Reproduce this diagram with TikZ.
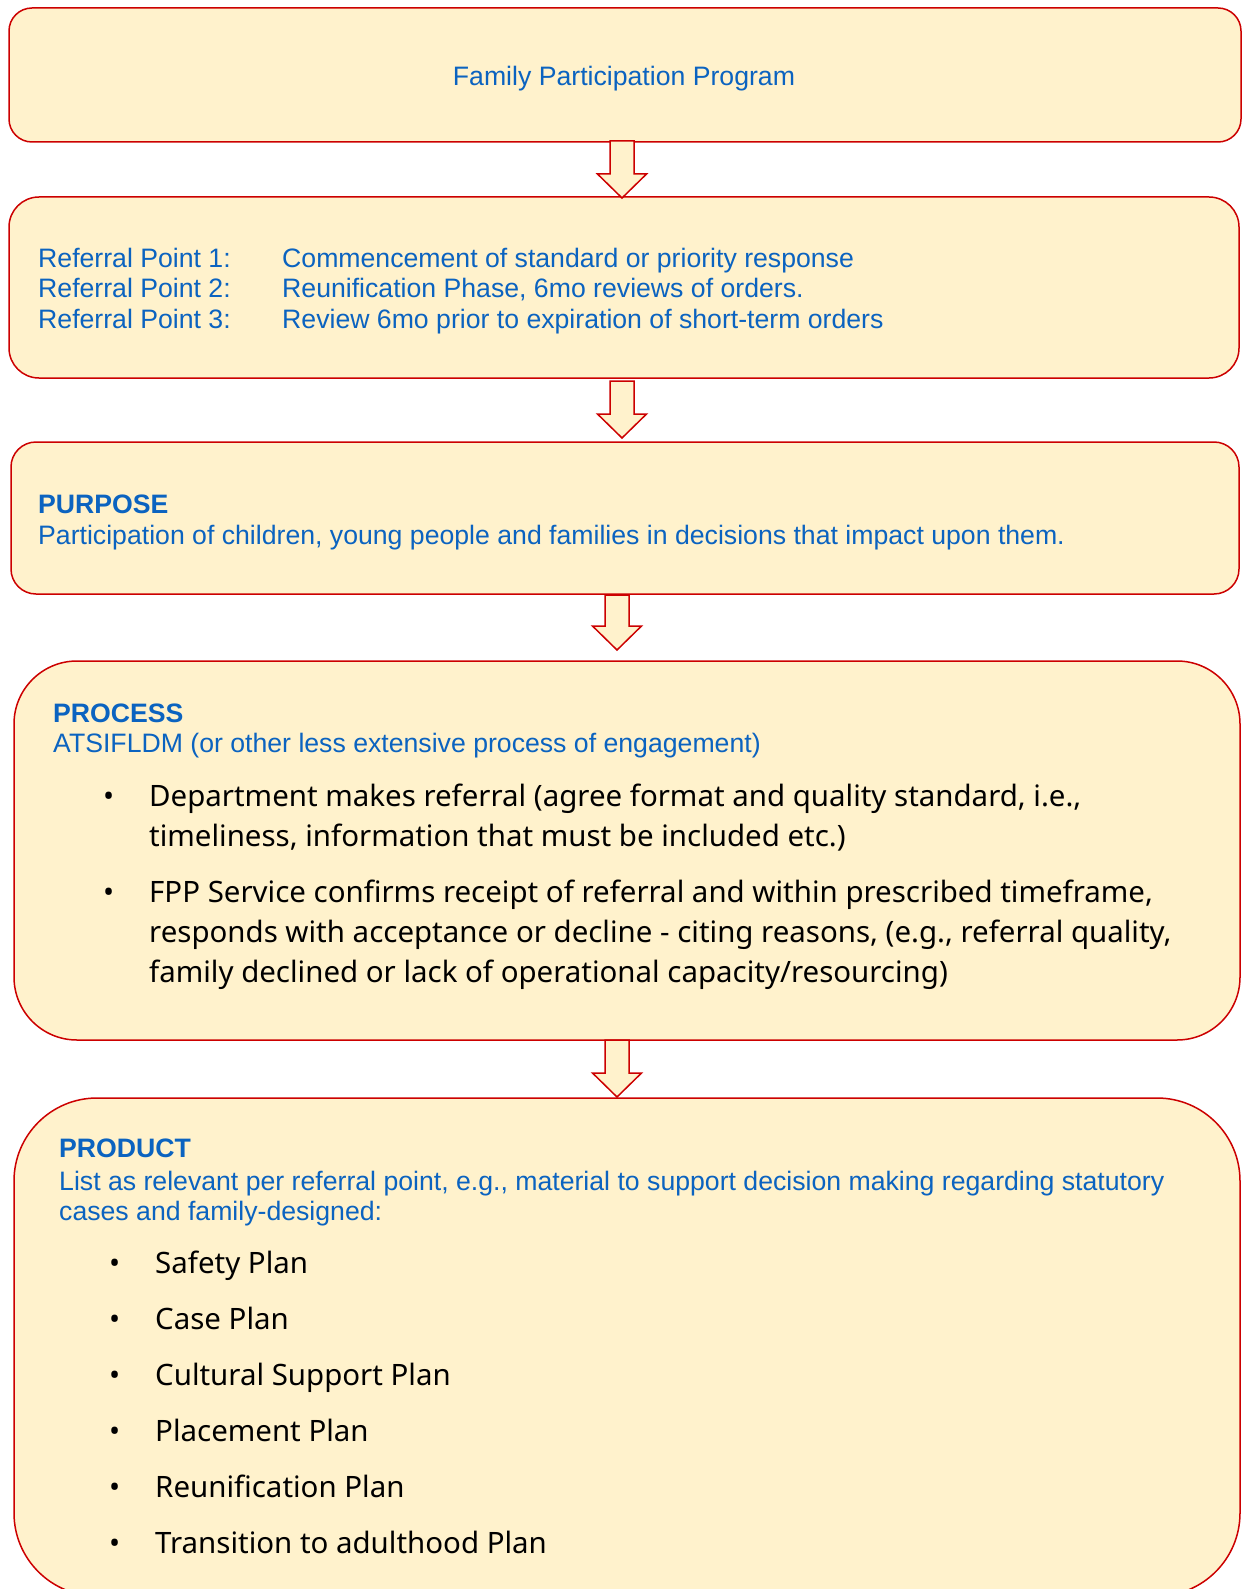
\documentclass[tikz,border=0pt]{standalone}
\usepackage{fontspec}
\setmainfont{Liberation Sans}
\newfontfamily\notofont{Noto Sans}
\usetikzlibrary{calc}
\definecolor{boxfill}{HTML}{FFF2CC}
\definecolor{boxline}{HTML}{CC0000}
\definecolor{bluetext}{HTML}{0B63C0}
\tikzset{
  flowbox/.style={draw=boxline, fill=boxfill, line width=1.5pt, inner sep=0pt, shape=rectangle},
  bluetxt/.style={inner sep=0pt, anchor=base west, text=bluetext, font=\fontsize{26.65}{30}\selectfont},
  boldtxt/.style={bluetxt, font=\fontsize{26.65}{30}\selectfont\bfseries},
  blacktxt/.style={inner sep=0pt, anchor=base west, text=black, font=\notofont\fontsize{29.45}{40}\selectfont},
  blockarrow/.style={draw=boxline, fill=boxfill, line width=1.5pt, line join=miter}
}
\newcommand\drawblockarrow[2]{%
  \draw[blockarrow] ($(#1)+(-12,0)$) -- ($(#1)+(12,0)$) -- ($(#2)+(12,-24)$) -- ($(#2)+(24.5,-24)$)
    -- (#2) -- ($(#2)+(-24.5,-24)$) -- ($(#2)+(-12,-24)$) -- cycle;}
\begin{document}
\begin{tikzpicture}[x=1pt,y=-1pt]
\useasboundingbox (0,0) rectangle (1242,1589);
\clip (0,0) rectangle (1242,1589);
\fill[white] (0,0) rectangle (1242,1589);

% boxes
\node[flowbox, minimum width=1232, minimum height=134, rounded corners=23] (b1) at (625,75) {};
\node[flowbox, minimum width=1230, minimum height=181, rounded corners=30] (b2) at (624,287.5) {};
\node[flowbox, minimum width=1228, minimum height=152, rounded corners=25] (b3) at (625,518) {};
\node[flowbox, minimum width=1226, minimum height=379, rounded corners=63] (b4) at (627,850.5) {};
\node[flowbox, minimum width=1226, minimum height=498, rounded corners=83] (b5) at (627,1347) {};

% arrows
\coordinate (a1t) at (622,141);  \coordinate (a1b) at (622,198);
\coordinate (a2t) at (622,381);  \coordinate (a2b) at (622,438);
\coordinate (a3t) at (617,595);  \coordinate (a3b) at (617,650);
\coordinate (a4t) at (617,1040); \coordinate (a4b) at (617,1097);
\drawblockarrow{a1t}{a1b}
\drawblockarrow{a2t}{a2b}
\drawblockarrow{a3t}{a3b}
\drawblockarrow{a4t}{a4b}

% box 1
\node[bluetxt, anchor=base] (t1) at (624,86) {Family Participation Program};

% box 2
\node[bluetxt] (r1a) at (38,267) {Referral Point 1:};
\node[bluetxt] (r2a) at (38,298) {Referral Point 2:};
\node[bluetxt] (r3a) at (38,328.5) {Referral Point 3:};
\node[bluetxt] (r1b) at (282,267) {Commencement of standard or priority response};
\node[bluetxt] (r2b) at (282,298) {Reunification Phase, 6mo reviews of orders.};
\node[bluetxt] (r3b) at (282,328.5) {Review 6mo prior to expiration of short-term orders};

% box 3
\node[boldtxt] (pu1) at (38,513) {PURPOSE};
\node[bluetxt] (pu2) at (38,544) {Participation of children, young people and families in decisions that impact upon them.};

% box 4
\node[boldtxt] (pr1) at (53,722) {PROCESS};
\node[bluetxt] (pr2) at (53,752) {ATSIFLDM (or other less extensive process of engagement)};
\node[blacktxt] (pb1) at (103,806) {\textbullet};
\node[blacktxt] (pl1) at (149,806) {Department makes referral (agree format and quality standard, i.e.,};
\node[blacktxt] (pl2) at (149,846) {timeliness, information that must be included etc.)};
\node[blacktxt] (pb2) at (103,902) {\textbullet};
\node[blacktxt] (pl3) at (149,902) {FPP Service confirms receipt of referral and within prescribed timeframe,};
\node[blacktxt] (pl4) at (149,942) {responds with acceptance or decline - citing reasons, (e.g., referral quality,};
\node[blacktxt] (pl5) at (149,982) {family declined or lack of operational capacity/resourcing)};

% box 5
\node[boldtxt] (pd1) at (59,1157) {PRODUCT};
\node[bluetxt] (pd2) at (59,1190) {List as relevant per referral point, e.g., material to support decision making regarding statutory};
\node[bluetxt] (pd3) at (59,1220) {cases and family-designed:};
\foreach \i/\yy/\txt in {1/1273/Safety Plan, 2/1329/Case Plan, 3/1385/Cultural Support Plan, 4/1441/Placement Plan, 5/1497/Reunification Plan, 6/1553/Transition to adulthood Plan}{
  \node[blacktxt] (qb\i) at (109,\yy) {\textbullet};
  \node[blacktxt] (ql\i) at (155,\yy) {\txt};
}
\end{tikzpicture}
\end{document}
